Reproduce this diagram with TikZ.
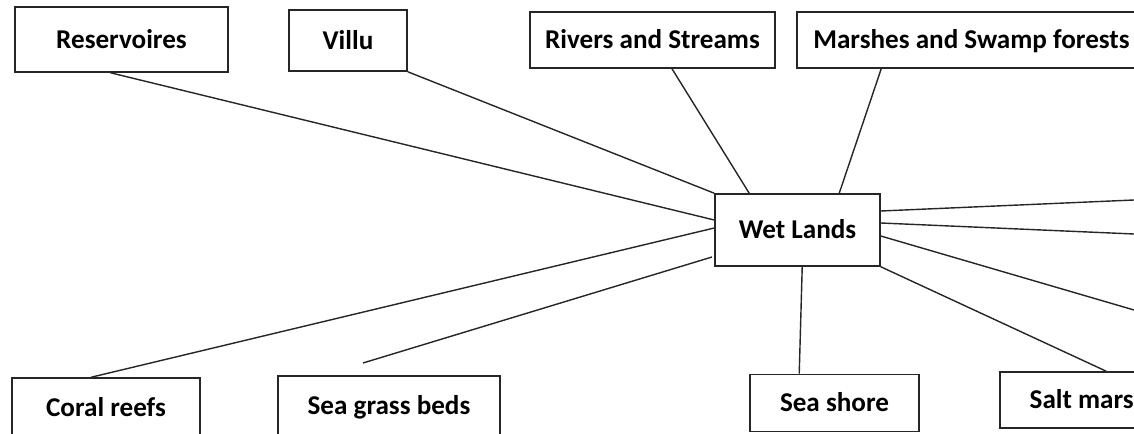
\documentclass[tikz,border=0pt]{standalone}
\usepackage{fontspec}
\setmainfont{Carlito}
\usetikzlibrary{calc}

\tikzset{
  wbox/.style 2 args={draw=black!85, line width=1.1pt, minimum width=#1*0.025cm,
    minimum height=#2*0.025cm, inner sep=0pt, text height=12.4pt, text depth=0pt,
    font=\fontsize{19.3}{23}\selectfont\bfseries},
  link/.style={draw=black!85, line width=1pt}
}

\begin{document}
\begin{tikzpicture}[x=0.025cm, y=-0.025cm]
				\useasboundingbox (0,0) rectangle (1134,434);
				\clip (0,0) rectangle (1134,434);

				% outer boxes
				\node[wbox={213}{65}] (res) at (121.5,39.5) {Reservoires\hspace{1.2em}};
				\node[wbox={118}{61}] (villu) at (348,40.5) {Villu\hspace{1.5em}};
				\node[wbox={245}{56}] (riv) at (652.5,40) {Rivers and Streams};
				\node[wbox={349}{56}] (mar) at (971.5,40) {Marshes and Swamp forests};
				\node[wbox={188}{60}] (coral) at (106,408) {Coral reefs};
				\node[wbox={222}{60}] (sgb) at (389,406) {Sea grass beds};
				\node[wbox={169}{57}] (ss) at (834.5,403) {Sea shore\hspace{0.6em}};
				\node[wbox={178}{56}] (salt) at (1089,400) {Salt marsh};

				% centre
				\node[wbox={165}{72}] (wl) at (797.5,230) {Wet Lands};

				% free ends
				\coordinate (sgbtop) at (363,363);
				\coordinate (sgbend) at (712,257);
				\coordinate (east1) at (1134,200);
				\coordinate (east2) at (1134,234);
				\coordinate (east3) at (1134,310);

				\draw[link] ($(res.south)+(-11,0)$) -- ($(wl.west)+(0,-10)$);
				\draw[link] (villu.south east) -- (wl.north west);
				\draw[link] ($(riv.south)+(19.5,0)$) -- ($(wl.north west)+(35,0)$);
				\draw[link] ($(mar.south west)+(85,0)$) -- ($(wl.north west)+(125,0)$);
				\draw[link] ($(coral.north west)+(80,0)$) -- ($(wl.west)+(0,-2)$);
				\draw[link] (sgbtop) -- (sgbend);
				\draw[link] ($(ss.north west)+(50,0)$) -- ($(wl.south west)+(88,0)$);
				\draw[link] ($(salt.north west)+(107,0)$) -- (wl.south east);
				\draw[link] ($(wl.east)+(0,-19)$) -- (east1);
				\draw[link] ($(wl.east)+(0,-7)$) -- (east2);
				\draw[link] ($(wl.east)+(0,6)$) -- (east3);
			\end{tikzpicture}
\end{document}
